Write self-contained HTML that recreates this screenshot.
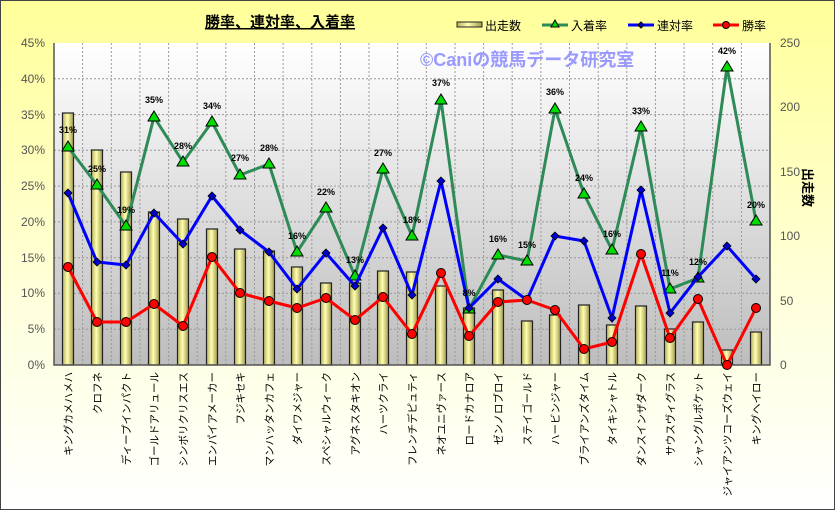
<!DOCTYPE html>
<html><head><meta charset="utf-8"><style>
body{margin:0;width:835px;height:510px;overflow:hidden;font-family:"Liberation Sans","Noto Sans CJK JP",sans-serif}
#c{position:absolute;left:0;top:0;width:833px;height:508px;border:1px solid #444;background:linear-gradient(#ffff99,#ffffdd 60%,#fff)}
</style></head><body><div id="c"></div>
<svg width="835" height="510" style="position:absolute;left:0;top:0" font-family="Liberation Sans, Noto Sans CJK JP, sans-serif">
<defs>
<linearGradient id="pa" x1="0" y1="0" x2="0" y2="1"><stop offset="0" stop-color="#fff"/><stop offset="1" stop-color="#bdbdbd"/></linearGradient>
<linearGradient id="bg" x1="0" y1="0" x2="1" y2="0"><stop offset="0" stop-color="#b8b060"/><stop offset="0.45" stop-color="#ffffb0"/><stop offset="1" stop-color="#a09850"/></linearGradient>
</defs>
<rect x="54" y="43" width="716" height="322" fill="url(#pa)"/>
<g stroke="#999" stroke-dasharray="2,2" stroke-width="1">
<line x1="54" y1="78.8" x2="770" y2="78.8"/><line x1="54" y1="114.6" x2="770" y2="114.6"/><line x1="54" y1="150.3" x2="770" y2="150.3"/><line x1="54" y1="186.1" x2="770" y2="186.1"/><line x1="54" y1="221.9" x2="770" y2="221.9"/><line x1="54" y1="257.7" x2="770" y2="257.7"/><line x1="54" y1="293.4" x2="770" y2="293.4"/><line x1="54" y1="329.2" x2="770" y2="329.2"/>
<line x1="82.6" y1="43" x2="82.6" y2="365"/><line x1="111.3" y1="43" x2="111.3" y2="365"/><line x1="139.9" y1="43" x2="139.9" y2="365"/><line x1="168.6" y1="43" x2="168.6" y2="365"/><line x1="197.2" y1="43" x2="197.2" y2="365"/><line x1="225.8" y1="43" x2="225.8" y2="365"/><line x1="254.5" y1="43" x2="254.5" y2="365"/><line x1="283.1" y1="43" x2="283.1" y2="365"/><line x1="311.8" y1="43" x2="311.8" y2="365"/><line x1="340.4" y1="43" x2="340.4" y2="365"/><line x1="369" y1="43" x2="369" y2="365"/><line x1="397.7" y1="43" x2="397.7" y2="365"/><line x1="426.3" y1="43" x2="426.3" y2="365"/><line x1="455" y1="43" x2="455" y2="365"/><line x1="483.6" y1="43" x2="483.6" y2="365"/><line x1="512.2" y1="43" x2="512.2" y2="365"/><line x1="540.9" y1="43" x2="540.9" y2="365"/><line x1="569.5" y1="43" x2="569.5" y2="365"/><line x1="598.2" y1="43" x2="598.2" y2="365"/><line x1="626.8" y1="43" x2="626.8" y2="365"/><line x1="655.4" y1="43" x2="655.4" y2="365"/><line x1="684.1" y1="43" x2="684.1" y2="365"/><line x1="712.7" y1="43" x2="712.7" y2="365"/><line x1="741.4" y1="43" x2="741.4" y2="365"/>
</g>
<text x="420" y="66" font-size="18" font-weight="bold" fill="#9999ff">©Caniの競馬データ研究室</text>
<g fill="url(#bg)" stroke="#222" stroke-width="1.2">
<rect x="62.5" y="113" width="11" height="252"/><rect x="91.5" y="150" width="11" height="215"/><rect x="120.5" y="172" width="11" height="193"/><rect x="148.5" y="212" width="11" height="153"/><rect x="177.5" y="219" width="11" height="146"/><rect x="206.5" y="229" width="11" height="136"/><rect x="234.5" y="249" width="11" height="116"/><rect x="263.5" y="251" width="11" height="114"/><rect x="291.5" y="267" width="11" height="98"/><rect x="320.5" y="283" width="11" height="82"/><rect x="349.5" y="283" width="11" height="82"/><rect x="377.5" y="271" width="11" height="94"/><rect x="406.5" y="272" width="11" height="93"/><rect x="435.5" y="286" width="11" height="79"/><rect x="463.5" y="308" width="11" height="57"/><rect x="492.5" y="290" width="11" height="75"/><rect x="521.5" y="321" width="11" height="44"/><rect x="549.5" y="315" width="11" height="50"/><rect x="578.5" y="305" width="11" height="60"/><rect x="606.5" y="325" width="11" height="40"/><rect x="635.5" y="306" width="11" height="59"/><rect x="664.5" y="329" width="11" height="36"/><rect x="692.5" y="322" width="11" height="43"/><rect x="721.5" y="350" width="11" height="15"/><rect x="750.5" y="332" width="11" height="33"/>
</g>
<g stroke="#555" stroke-width="1.5" fill="none"><polyline points="54,43 54,365 770,365 770,43"/></g>
<polyline fill="none" stroke="#2e8b57" stroke-width="3" points="68,147 97,185 126,226 154,117 183,162 212,122 240,175 269,164 297,252 326,208 355,276 383,169 412,236 441,100 469,309 498,255 527,261 555,109 584,194 612,250 641,127 670,289 698,278 727,67 756,221"/>
<g fill="#00dd00" stroke="#000" stroke-width="1">
<path d="M68,141l6,10h-12z"/><path d="M97,179l6,10h-12z"/><path d="M126,220l6,10h-12z"/><path d="M154,111l6,10h-12z"/><path d="M183,156l6,10h-12z"/><path d="M212,116l6,10h-12z"/><path d="M240,169l6,10h-12z"/><path d="M269,158l6,10h-12z"/><path d="M297,246l6,10h-12z"/><path d="M326,202l6,10h-12z"/><path d="M355,270l6,10h-12z"/><path d="M383,163l6,10h-12z"/><path d="M412,230l6,10h-12z"/><path d="M441,94l6,10h-12z"/><path d="M469,303l6,10h-12z"/><path d="M498,249l6,10h-12z"/><path d="M527,255l6,10h-12z"/><path d="M555,103l6,10h-12z"/><path d="M584,188l6,10h-12z"/><path d="M612,244l6,10h-12z"/><path d="M641,121l6,10h-12z"/><path d="M670,283l6,10h-12z"/><path d="M698,272l6,10h-12z"/><path d="M727,61l6,10h-12z"/><path d="M756,215l6,10h-12z"/>
</g>
<polyline fill="none" stroke="#0000ff" stroke-width="3" points="68,193 97,262 126,265 154,213 183,244 212,196 240,230 269,252 297,289 326,253 355,286 383,228 412,295 441,181 469,308 498,279 527,300 555,236 584,241 612,318 641,190 670,313 698,277 727,246 756,279"/>
<g fill="#0000cc" stroke="#000" stroke-width="0.8">
<path d="M68,189l4,4l-4,4l-4,-4z"/><path d="M97,258l4,4l-4,4l-4,-4z"/><path d="M126,261l4,4l-4,4l-4,-4z"/><path d="M154,209l4,4l-4,4l-4,-4z"/><path d="M183,240l4,4l-4,4l-4,-4z"/><path d="M212,192l4,4l-4,4l-4,-4z"/><path d="M240,226l4,4l-4,4l-4,-4z"/><path d="M269,248l4,4l-4,4l-4,-4z"/><path d="M297,285l4,4l-4,4l-4,-4z"/><path d="M326,249l4,4l-4,4l-4,-4z"/><path d="M355,282l4,4l-4,4l-4,-4z"/><path d="M383,224l4,4l-4,4l-4,-4z"/><path d="M412,291l4,4l-4,4l-4,-4z"/><path d="M441,177l4,4l-4,4l-4,-4z"/><path d="M469,304l4,4l-4,4l-4,-4z"/><path d="M498,275l4,4l-4,4l-4,-4z"/><path d="M527,296l4,4l-4,4l-4,-4z"/><path d="M555,232l4,4l-4,4l-4,-4z"/><path d="M584,237l4,4l-4,4l-4,-4z"/><path d="M612,314l4,4l-4,4l-4,-4z"/><path d="M641,186l4,4l-4,4l-4,-4z"/><path d="M670,309l4,4l-4,4l-4,-4z"/><path d="M698,273l4,4l-4,4l-4,-4z"/><path d="M727,242l4,4l-4,4l-4,-4z"/><path d="M756,275l4,4l-4,4l-4,-4z"/>
</g>
<polyline fill="none" stroke="#ff0000" stroke-width="3" points="68,267 97,322 126,322 154,304 183,326 212,257 240,293 269,301 297,308 326,298 355,320 383,297 412,334 441,273 469,336 498,302 527,300 555,310 584,349 612,342 641,254 670,338 698,299 727,365 756,308"/>
<g fill="#ff0000" stroke="#000" stroke-width="1">
<circle cx="68" cy="267" r="4.5"/><circle cx="97" cy="322" r="4.5"/><circle cx="126" cy="322" r="4.5"/><circle cx="154" cy="304" r="4.5"/><circle cx="183" cy="326" r="4.5"/><circle cx="212" cy="257" r="4.5"/><circle cx="240" cy="293" r="4.5"/><circle cx="269" cy="301" r="4.5"/><circle cx="297" cy="308" r="4.5"/><circle cx="326" cy="298" r="4.5"/><circle cx="355" cy="320" r="4.5"/><circle cx="383" cy="297" r="4.5"/><circle cx="412" cy="334" r="4.5"/><circle cx="441" cy="273" r="4.5"/><circle cx="469" cy="336" r="4.5"/><circle cx="498" cy="302" r="4.5"/><circle cx="527" cy="300" r="4.5"/><circle cx="555" cy="310" r="4.5"/><circle cx="584" cy="349" r="4.5"/><circle cx="612" cy="342" r="4.5"/><circle cx="641" cy="254" r="4.5"/><circle cx="670" cy="338" r="4.5"/><circle cx="698" cy="299" r="4.5"/><circle cx="727" cy="365" r="4.5"/><circle cx="756" cy="308" r="4.5"/>
</g>
<g font-size="9" font-weight="bold" text-anchor="middle" fill="#000">
<text x="68" y="133">31%</text><text x="97" y="172">25%</text><text x="126" y="213">19%</text><text x="154" y="103">35%</text><text x="183" y="149">28%</text><text x="212" y="109">34%</text><text x="240" y="161">27%</text><text x="269" y="151">28%</text><text x="297" y="239">16%</text><text x="326" y="195">22%</text><text x="355" y="263">13%</text><text x="383" y="156">27%</text><text x="412" y="223">18%</text><text x="441" y="86">37%</text><text x="469" y="296">8%</text><text x="498" y="242">16%</text><text x="527" y="248">15%</text><text x="555" y="95">36%</text><text x="584" y="181">24%</text><text x="612" y="237">16%</text><text x="641" y="114">33%</text><text x="670" y="276">11%</text><text x="698" y="265">12%</text><text x="727" y="54">42%</text><text x="756" y="208">20%</text>
</g>
<g font-size="12" fill="#555" text-anchor="end">
<text x="45" y="47">45%</text><text x="45" y="83">40%</text><text x="45" y="119">35%</text><text x="45" y="154">30%</text><text x="45" y="190">25%</text><text x="45" y="226">20%</text><text x="45" y="262">15%</text><text x="45" y="297">10%</text><text x="45" y="333">5%</text><text x="45" y="369">0%</text>
</g>
<g font-size="12" fill="#555">
<text x="780" y="47">250</text><text x="780" y="111">200</text><text x="780" y="176">150</text><text x="780" y="240">100</text><text x="780" y="305">50</text><text x="780" y="369">0</text>
</g>
<text x="280" y="27" font-size="15" font-weight="bold" text-anchor="middle" text-decoration="underline">勝率、連対率、入着率</text>
<g font-size="12" fill="#000">
<rect x="457" y="22" width="25" height="5" fill="url(#bg)" stroke="#222"/><text x="485" y="30">出走数</text>
<line x1="542" y1="25" x2="568" y2="25" stroke="#2e8b57" stroke-width="3"/><path d="M555,20l4,7h-8z" fill="#00dd00" stroke="#000"/><text x="571" y="30">入着率</text>
<line x1="628" y1="25" x2="654" y2="25" stroke="#0000ff" stroke-width="3"/><path d="M641,22l3,3l-3,3l-3,-3z" fill="#0000cc" stroke="#000"/><text x="657" y="30">連対率</text>
<line x1="713" y1="25" x2="739" y2="25" stroke="#ff0000" stroke-width="3"/><circle cx="726" cy="25" r="3.5" fill="#f00" stroke="#000"/><text x="742" y="30">勝率</text>
</g>
<text x="0" y="0" font-size="13" transform="translate(803,168) rotate(90)" fill="#000" font-weight="bold">出走数</text>
<g font-size="10.5" text-anchor="end" fill="#000" font-family="Noto Sans CJK JP, sans-serif">
<text transform="translate(72,372) rotate(-90)">キングカメハメハ</text>
<text transform="translate(101,372) rotate(-90)">クロフネ</text>
<text transform="translate(130,372) rotate(-90)">ディープインパクト</text>
<text transform="translate(158,372) rotate(-90)">ゴールドアリュール</text>
<text transform="translate(187,372) rotate(-90)">シンボリクリスエス</text>
<text transform="translate(216,372) rotate(-90)">エンパイアメーカー</text>
<text transform="translate(244,372) rotate(-90)">フジキセキ</text>
<text transform="translate(273,372) rotate(-90)">マンハッタンカフェ</text>
<text transform="translate(301,372) rotate(-90)">ダイワメジャー</text>
<text transform="translate(330,372) rotate(-90)">スペシャルウィーク</text>
<text transform="translate(359,372) rotate(-90)">アグネスタキオン</text>
<text transform="translate(387,372) rotate(-90)">ハーツクライ</text>
<text transform="translate(416,372) rotate(-90)">フレンチデピュティ</text>
<text transform="translate(445,372) rotate(-90)">ネオユニヴァース</text>
<text transform="translate(473,372) rotate(-90)">ロードカナロア</text>
<text transform="translate(502,372) rotate(-90)">ゼンノロブロイ</text>
<text transform="translate(531,372) rotate(-90)">ステイゴールド</text>
<text transform="translate(559,372) rotate(-90)">ハービンジャー</text>
<text transform="translate(588,372) rotate(-90)">ブライアンズタイム</text>
<text transform="translate(616,372) rotate(-90)">タイキシャトル</text>
<text transform="translate(645,372) rotate(-90)">ダンスインザダーク</text>
<text transform="translate(674,372) rotate(-90)">サウスヴィグラス</text>
<text transform="translate(702,372) rotate(-90)">シャングルポケット</text>
<text transform="translate(731,372) rotate(-90)">ジャイアンツコーズウェイ</text>
<text transform="translate(760,372) rotate(-90)">キングヘイロー</text>
</g>
</svg>
</body></html>
